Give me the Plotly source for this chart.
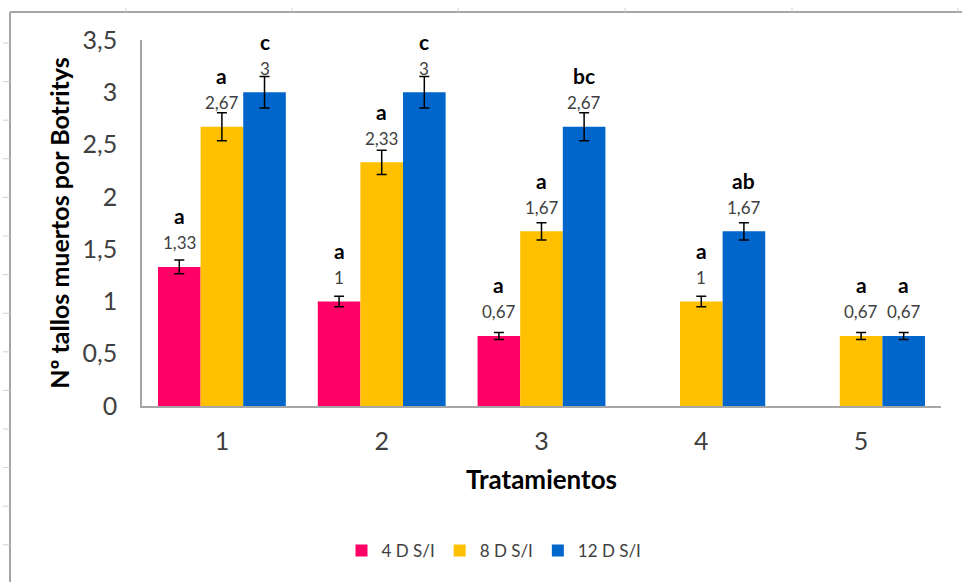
import plotly.graph_objects as go

# Treatments and series
tratamientos = [1, 2, 3, 4, 5]
series_names = ["4 D S/I", "8 D S/I", "12 D S/I"]
serie_4d = [1.33, 1, 0.67, None, None]
serie_8d = [2.67, 2.33, 1.67, 1, 0.67]
serie_12d = [3, 3, 2.67, 1.67, 0.67]

# Significance letters per bar
letras_4d = ["a", "a", "a", None, None]
letras_8d = ["a", "a", "a", "a", "a"]
letras_12d = ["c", "c", "bc", "ab", "a"]

colores = ["#FF0066", "#FFC000", "#0066CC"]
valores = [serie_4d, serie_8d, serie_12d]
letras = [letras_4d, letras_8d, letras_12d]

W, H = 962, 582
L, R, T, B = 142, 21, 40, 176
PW, PH = W - L - R, H - T - B

FONT = "Lato"
GRAY_TXT = "#404040"

fig = go.Figure()
for name, vals, col in zip(series_names, valores, colores):
    fig.add_trace(go.Bar(
        x=tratamientos, y=vals, name=name,
        marker=dict(color=col, line=dict(width=0)),
        error_y=dict(type="percent", value=5, color="black", thickness=1.5, width=5),
    ))

# value labels and letters above each bar
n = len(series_names)
slot = 0.8 / n
annotations = []
for i, (vals, lets) in enumerate(zip(valores, letras)):
    for xc, v, let in zip(tratamientos, vals, lets):
        if v is None:
            continue
        xpos = xc + (i - (n - 1) / 2) * slot
        annotations.append(dict(
            x=xpos, y=v, xref="x", yref="y", text=f"{v:g}".replace(".", ","),
            showarrow=False, yshift=24, yanchor="middle",
            font=dict(family=FONT, size=17, color=GRAY_TXT)))
        if let:
            annotations.append(dict(
                x=xpos, y=v, xref="x", yref="y", text=f"<b>{let}</b>",
                showarrow=False, yshift=51, yanchor="middle",
                font=dict(family=FONT, size=21, color="black")))


def px(xp):
    return (xp - L) / PW


def py(yp):
    return (H - B - yp) / PH


# surrounding frame of the sheet
frame = "#A6A6A6"
shapes = [
    dict(type="line", xref="paper", yref="paper", x0=px(10), x1=px(962), y0=py(12), y1=py(12),
         line=dict(color=frame, width=2)),
    dict(type="line", xref="paper", yref="paper", x0=px(10), x1=px(10), y0=py(12), y1=py(582),
         line=dict(color=frame, width=2)),
]
for xt in [126, 292, 458, 625, 792, 958]:
    shapes.append(dict(type="line", xref="paper", yref="paper", x0=px(xt), x1=px(xt),
                       y0=py(8), y1=py(12), line=dict(color="#D0D0D0", width=1)))
yt = 43.0
while yt < 582:
    shapes.append(dict(type="line", xref="paper", yref="paper", x0=px(3), x1=px(10),
                       y0=py(yt), y1=py(yt), line=dict(color="#D0D0D0", width=1)))
    yt += 38.6

fig.update_layout(
    width=W, height=H,
    margin=dict(l=L, r=R, t=T, b=B),
    paper_bgcolor="white", plot_bgcolor="white",
    barmode="group", bargap=0.2, bargroupgap=0,
    separators=",.",
    font=dict(family=FONT, color=GRAY_TXT),
    xaxis=dict(
        range=[0.5, 5.5], tickvals=tratamientos, ticktext=[str(t) for t in tratamientos],
        showline=True, linecolor="#A6A6A6", linewidth=1.5, ticks="", showgrid=False,
        zeroline=False, tickfont=dict(family=FONT, size=25, color=GRAY_TXT),
        ticklabelstandoff=12,
        title=dict(text="<b>Tratamientos</b>", font=dict(family=FONT, size=26, color="black"),
                   standoff=17),
    ),
    yaxis=dict(
        range=[0, 3.5], dtick=0.5, tickformat=".1~f",
        showline=True, linecolor="#A6A6A6", linewidth=1.5, ticks="", showgrid=False,
        zeroline=False, tickfont=dict(family=FONT, size=25, color=GRAY_TXT),
        ticklabelstandoff=18,
        title=dict(text="<b>Nº tallos muertos por Botritys</b>",
                   font=dict(family=FONT, size=25, color="black"), standoff=6),
    ),
    legend=dict(orientation="h", x=px(494), xanchor="center", y=py(551), yanchor="middle",
                font=dict(family=FONT, size=17, color=GRAY_TXT), traceorder="normal"),
    annotations=annotations,
    shapes=shapes,
)

fig.write_html("out.html")
